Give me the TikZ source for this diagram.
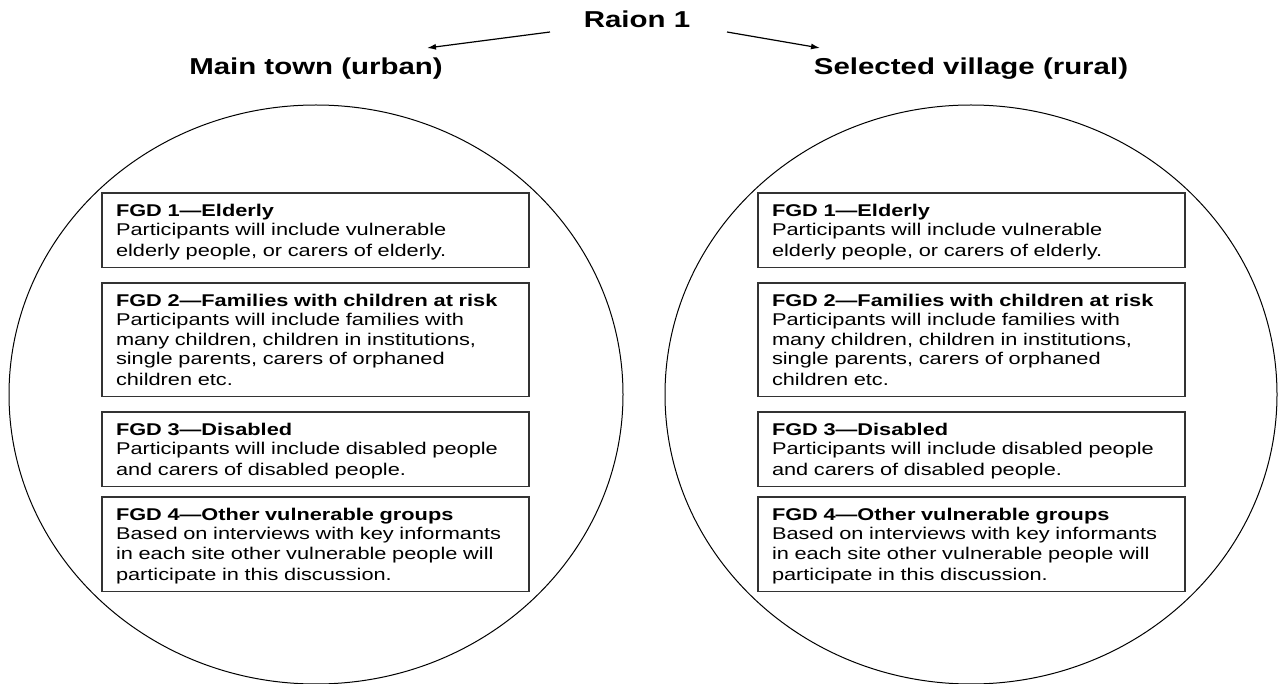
\documentclass[tikz,border=0pt]{standalone}
\usepackage{fontspec}
\usetikzlibrary{arrows.meta}
\newfontfamily\boxfont{Liberation Sans}[FakeStretch=1.28]
\newcommand{\bstrut}{\rule[-3.5pt]{0pt}{19.5pt}}
\tikzset{
  fgd/.style={draw=black!80, line width=1.1pt, anchor=north west, inner xsep=14pt, inner ysep=7.5pt,
    outer sep=0pt, text width=399pt, align=left,
    font={\boxfont\fontsize{17}{19.5}\selectfont}},
  ttl/.style={anchor=base, inner sep=0pt, font={\boxfont\bfseries\fontsize{23}{27}\selectfont}},
  site/.style={draw=black, line width=1pt},
  arr/.style={line width=1.2pt, -{Latex[length=9pt,width=6pt]}}
}
\begin{document}
\begin{tikzpicture}[x=1pt,y=-1pt]
\useasboundingbox (0,0) rectangle (1278,684);
% title and sites
\node[ttl] (raion) at (637,28) {Raion 1};
\node[ttl] (urban) at (316,75) {Main town (urban)};
\node[ttl] (rural) at (971,75) {Selected village (rural)};
\coordinate (la) at (550,32);
\coordinate (lb) at (427,48);
\coordinate (ra) at (727,32);
\coordinate (rb) at (820,48);
\draw[arr] (la) -- (lb);
\draw[arr] (ra) -- (rb);
% ellipses
\draw[site] (316,394.5) ellipse [x radius=307pt, y radius=289.5pt];
\draw[site] (971,394.5) ellipse [x radius=306pt, y radius=289.5pt];
% boxes
\foreach \x/\s in {102/L,758/R}{
\node[fgd] (\s1) at (\x,193) {\bstrut\textbf{FGD 1—Elderly}\\
Participants will include vulnerable\\
elderly people, or carers of elderly.\bstrut};
\node[fgd] (\s2) at (\x,283) {\bstrut\textbf{FGD 2—Families with children at risk}\\
Participants will include families with\\
many children, children in institutions,\\
single parents, carers of orphaned\\
children etc.\bstrut};
\node[fgd] (\s3) at (\x,412) {\bstrut\textbf{FGD 3—Disabled}\\
Participants will include disabled people\\
and carers of disabled people.\bstrut};
\node[fgd] (\s4) at (\x,497) {\bstrut\textbf{FGD 4—Other vulnerable groups}\\
Based on interviews with key informants\\
in each site other vulnerable people will\\
participate in this discussion.\bstrut};
}
\end{tikzpicture}
\end{document}
